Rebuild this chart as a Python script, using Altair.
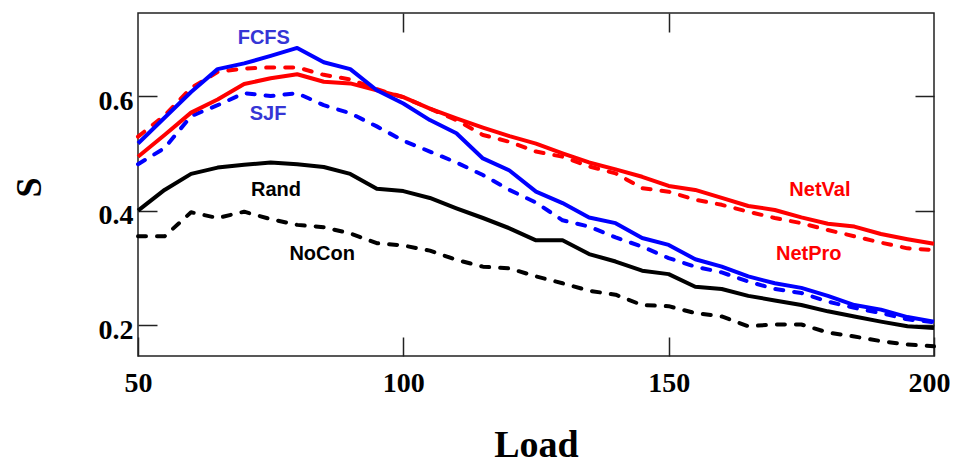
import altair as alt
import pandas as pd

# ---------------- data ----------------
loads = list(range(50, 201, 5))

fcfs = [0.517, 0.562, 0.607, 0.647, 0.657, 0.670, 0.684, 0.659, 0.647, 0.610,
        0.587, 0.558, 0.535, 0.491, 0.470, 0.433, 0.413, 0.388, 0.378, 0.352,
        0.340, 0.315, 0.302, 0.285, 0.273, 0.265, 0.251, 0.235, 0.227, 0.214, 0.206]
netval = [0.494, 0.532, 0.571, 0.594, 0.621, 0.631, 0.638, 0.625, 0.622, 0.610,
          0.598, 0.578, 0.561, 0.545, 0.530, 0.517, 0.500, 0.484, 0.472, 0.459,
          0.443, 0.436, 0.422, 0.408, 0.401, 0.388, 0.377, 0.372, 0.359, 0.350, 0.342]
netpro = [0.529, 0.566, 0.614, 0.642, 0.648, 0.650, 0.650, 0.637, 0.629, 0.612,
          0.598, 0.578, 0.558, 0.532, 0.520, 0.503, 0.494, 0.477, 0.465, 0.439,
          0.433, 0.419, 0.410, 0.398, 0.387, 0.378, 0.366, 0.355, 0.344, 0.334, 0.331]
sjf = [0.481, 0.509, 0.565, 0.584, 0.605, 0.600, 0.605, 0.584, 0.570, 0.547,
       0.522, 0.503, 0.484, 0.462, 0.436, 0.414, 0.383, 0.372, 0.353, 0.337,
       0.317, 0.302, 0.292, 0.276, 0.263, 0.256, 0.241, 0.230, 0.221, 0.210, 0.205]
rand = [0.400, 0.436, 0.464, 0.475, 0.480, 0.484, 0.481, 0.476, 0.464, 0.438,
        0.434, 0.422, 0.404, 0.387, 0.369, 0.348, 0.348, 0.324, 0.311, 0.295,
        0.289, 0.267, 0.263, 0.251, 0.243, 0.235, 0.224, 0.215, 0.206, 0.198, 0.195]
nocon = [0.355, 0.355, 0.397, 0.387, 0.398, 0.385, 0.375, 0.371, 0.360, 0.343,
         0.339, 0.330, 0.314, 0.302, 0.299, 0.285, 0.273, 0.260, 0.253, 0.235,
         0.233, 0.221, 0.215, 0.198, 0.201, 0.201, 0.187, 0.180, 0.172, 0.166, 0.163]

series_names = ["NoCon", "Rand", "SJF", "NetPro", "NetVal", "FCFS"]
series_values = [nocon, rand, sjf, netpro, netval, fcfs]
series_colors = ["#000000", "#000000", "#0000FF", "#FF0000", "#FF0000", "#0000FF"]
series_dashed = [True, False, True, True, False, False]

label_text = ["FCFS", "SJF", "Rand", "NoCon", "NetVal", "NetPro"]
label_x = [73.7, 74.5, 76.0, 84.7, 178.5, 176.4]
label_y = [0.701, 0.569, 0.436, 0.3245, 0.436, 0.3245]
label_color = ["#3535D5", "#3535D5", "#000000", "#000000", "#FF0000", "#FF0000"]

x_ticks = [50, 100, 150, 200]
y_ticks = [0.2, 0.4, 0.6]

# ---------------- chart ----------------
SERIF = "Liberation Serif"
SANS = "Liberation Sans"
TICK = 19

xscale = alt.Scale(domain=[50, 200], nice=False, zero=False)
yscale = alt.Scale(domain=[0.146, 0.745], nice=False, zero=False)

x_axis = alt.Axis(orient="bottom", values=x_ticks, format="d", tickSize=TICK, offset=-TICK,
                  domain=False, grid=False, tickColor="#222222", tickWidth=1.5,
                  labelFont=SERIF, labelFontWeight="bold", labelFontSize=28,
                  labelColor="black", labelPadding=13, labelFlush=False, labelOverlap=False,
                  labelOffset={"condition": {"test": "datum.value == 200", "value": -5},
                               "value": 0},
                  title="Load", titleFont=SERIF, titleFontWeight="bold", titleFontSize=38,
                  titleColor="black", titleBaseline="alphabetic", titleY=119)
y_axis = alt.Axis(orient="left", values=y_ticks, format=".1f", tickSize=TICK, offset=-TICK,
                  domain=False, grid=False, tickColor="#222222", tickWidth=1.5,
                  labelFont=SERIF, labelFontWeight="bold", labelFontSize=28,
                  labelColor="black", labelPadding=5, labelOffset=5, labelFlush=False,
                  labelOverlap=False,
                  title="S", titleFont=SERIF, titleFontWeight="bold", titleFontSize=36,
                  titleColor="black", titleAngle=270, titleBaseline="alphabetic",
                  titleAlign="center", titleX=-117, titleY=174)

rows = []
for name, vals in zip(series_names, series_values):
    for l, v in zip(loads, vals):
        rows.append({"series": name, "load": l, "s": v})
df = pd.DataFrame(rows)

layers = []
for name, color, dashed in zip(series_names, series_colors, series_dashed):
    props = dict(color=color, strokeWidth=4, strokeJoin="round")
    if dashed:
        props.update(strokeDash=[8, 11], strokeCap="round")
    layers.append(
        alt.Chart(df).mark_line(**props)
        .transform_filter(alt.datum.series == name)
        .encode(x=alt.X("load:Q", scale=xscale, axis=x_axis),
                y=alt.Y("s:Q", scale=yscale, axis=y_axis))
    )

lab_df = pd.DataFrame({"text": label_text, "load": label_x, "s": label_y, "color": label_color})
texts = alt.Chart(lab_df).mark_text(font=SANS, fontWeight="bold", fontSize=20,
                                    align="center", baseline="middle").encode(
    x=alt.X("load:Q", scale=xscale, axis=x_axis),
    y=alt.Y("s:Q", scale=yscale, axis=y_axis),
    text="text:N",
    color=alt.Color("color:N", scale=None),
)

main = alt.layer(*layers, texts)

frame_ticks = alt.Chart(df).mark_point(opacity=0, size=1).encode(
    x=alt.X("load:Q", scale=xscale,
            axis=alt.Axis(orient="top", values=[100, 150], tickSize=TICK, offset=-TICK,
                          domain=False, grid=False, labels=False, title=None,
                          tickColor="#222222", tickWidth=1.5)),
    y=alt.Y("s:Q", scale=yscale,
            axis=alt.Axis(orient="right", values=y_ticks, tickSize=TICK, offset=-TICK,
                          domain=False, grid=False, labels=False, title=None,
                          tickColor="#222222", tickWidth=1.5)),
)

chart = alt.layer(main, frame_ticks).resolve_axis(
    x="independent", y="independent"
).properties(
    width=796, height=343,
    autosize=alt.AutoSizeParams(type="none"),
    padding={"left": 130, "top": 5, "right": 16, "bottom": 108},
    background="white",
).configure_view(stroke="#222222", strokeWidth=1.5)

chart.save("out.html", embed_options={"renderer": "svg", "actions": False})
